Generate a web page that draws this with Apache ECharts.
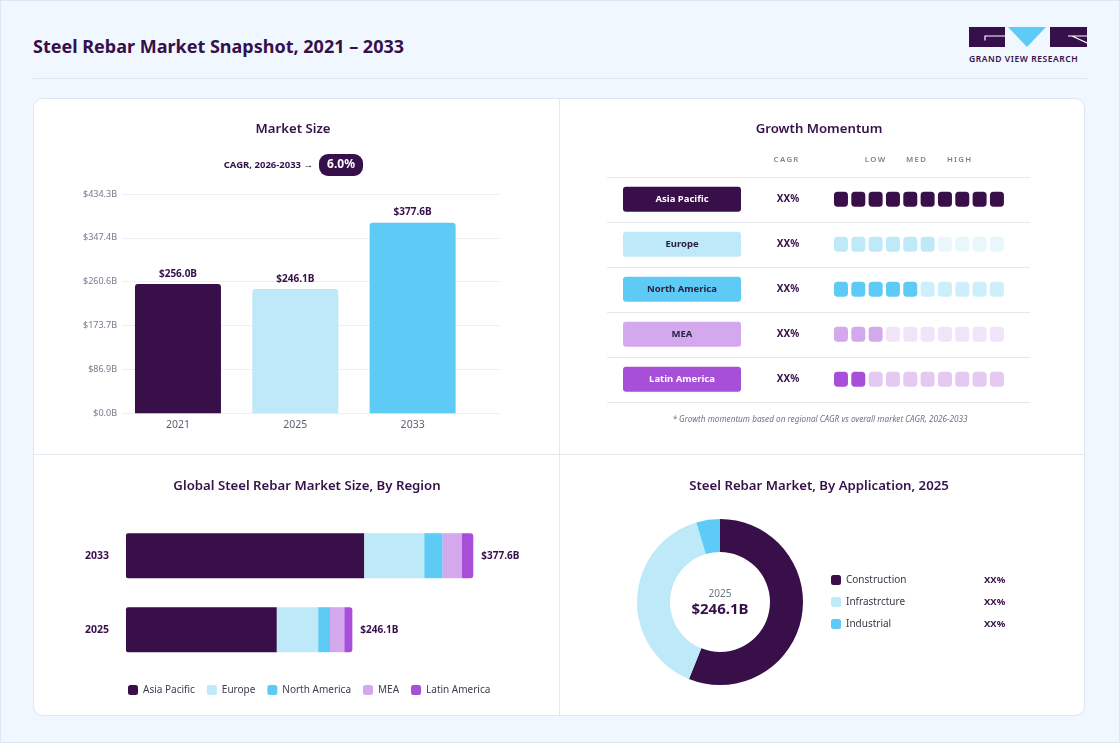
<!DOCTYPE html>
<html>
<head>
<meta charset="utf-8">
<title>Steel Rebar Market Snapshot</title>
<script src="https://cdn.jsdelivr.net/npm/echarts@6.0.0/dist/echarts.min.js"></script>
<style>
  html, body { margin: 0; padding: 0; }
  body { width: 1120px; height: 743px; overflow: hidden; font-family: "Noto Sans", sans-serif; }
  #page { position: absolute; left: 0; top: 0; width: 1120px; height: 743px; background: #f0f7fe; box-shadow: inset 0 0 0 1px #dce7f2; }
  .head-title { position: absolute; left: 33px; top: 34px; font-weight: 700; font-size: 18px; color: #36104a; white-space: nowrap; }
  .head-rule { position: absolute; left: 33px; top: 78px; width: 1054px; height: 1px; background: #dde5ee; }
  .logo { position: absolute; left: 969px; top: 27px; }
  .logo-text { position: absolute; left: 969px; top: 53px; width: 120px; font-size: 8.5px; font-weight: 600; letter-spacing: 0.55px; color: #36104a; white-space: nowrap; }
  .card { position: absolute; left: 33px; top: 98px; width: 1050px; height: 616px; background: #fff; border: 1px solid #dfe6ee; border-radius: 10px; }
  .vrule { position: absolute; left: 559px; top: 99px; width: 1px; height: 616px; background: #e3e8ef; }
  .hrule { position: absolute; left: 34px; top: 454px; width: 1050px; height: 1px; background: #e3e8ef; }
  #chart { position: absolute; left: 0; top: 0; width: 1120px; height: 743px; }
</style>
</head>
<body>
<div id="page">
  <div class="head-title">Steel Rebar Market Snapshot, 2021 – 2033</div>
  <svg class="logo" width="118" height="21" viewBox="0 0 118 21">
    <rect x="0" y="0" width="36" height="20" fill="#36104a"/>
    <path d="M16 13.5 V9 H36" stroke="#fff" stroke-width="1.2" fill="none"/>
    <polygon points="39,0 77,0 58,20" fill="#5ecbf6"/>
    <rect x="81" y="0" width="37" height="20" fill="#36104a"/>
    <path d="M99 9 H118 M103 9 L118 16" stroke="#fff" stroke-width="1.2" fill="none"/>
  </svg>
  <div class="logo-text">GRAND VIEW RESEARCH</div>
  <div class="head-rule"></div>
  <div class="card"></div>
  <div class="vrule"></div>
  <div class="hrule"></div>
</div>
<div id="chart"></div>
<script>
;(function () {
    'use strict';

    // 市场规模
    var years = ['2021', '2025', '2033'];
    var marketSize = [256.0, 246.1, 377.6];
    var sizeAxisMax = 434.3;
    var sizeAxisStep = 86.86;
    var cagrPeriod = 'CAGR, 2026-2033';
    var cagrValue = '6.0%';

    // 增长势头
    var regions = ['Asia Pacific', 'Europe', 'North America', 'MEA', 'Latin America'];
    var regionCagr = ['XX%', 'XX%', 'XX%', 'XX%', 'XX%'];
    var momentumLevel = [10, 6, 5, 3, 2];
    var momentumSteps = ['1', '2', '3', '4', '5', '6', '7', '8', '9', '10'];
    var momentumHeads = ['LOW', 'MED', 'HIGH'];

    // 分地区
    var regionYears = ['2033', '2025'];
    var asiaPacific = [259.1, 164.0];
    var europe = [65.2, 45.0];
    var northAmerica = [20.0, 12.8];
    var mea = [21.0, 15.6];
    var latinAmerica = [12.3, 8.7];
    var regionTotals = [377.6, 246.1];

    // 分应用
    var applications = ['Construction', 'Infrastrcture', 'Industrial'];
    var appShares = [56.1, 39.3, 4.6];
    var appShareLabels = ['XX%', 'XX%', 'XX%'];
    var appYear = '2025';
    var appTotal = 246.1;

    // 颜色
    var DARK = '#36104a';
    var FONT = '"Noto Sans", sans-serif';
    var yearColors = ['#380f48', '#bde9f9', '#5ecbf6'];
    var regionColors = ['#380f48', '#bde9f9', '#5ecbf6', '#d4a8ec', '#a74fd8'];
    var regionFaded = ['#380f48', '#e9f7fd', '#cdeffb', '#f1e3f8', '#e4c9f2'];
    var badgeText = ['#ffffff', '#2a2140', '#2a2140', '#2a2140', '#ffffff'];
    var appColors = ['#380f48', '#bde9f9', '#5ecbf6'];

    function fmtB(v) { return '$' + v.toFixed(1) + 'B'; }
    function spaced(s) { return s.split('').join('\u2009'); }

    // 徽章样式
    var badgeRich = {
        c: { width: 94, align: 'center', fontSize: 10, fontWeight: 700, color: DARK, fontFamily: FONT }
    };
    for (var b = 0; b < regions.length; b++) {
        badgeRich['b' + b] = {
            width: 118, height: 25, align: 'center', borderRadius: 3,
            backgroundColor: regionColors[b], color: badgeText[b],
            fontSize: 9.5, fontWeight: 700, fontFamily: FONT
        };
    }

    // 方块数据
    var squares = [];
    for (var r = 0; r < regions.length; r++) {
        for (var s = 0; s < momentumSteps.length; s++) {
            squares.push({
                value: [momentumSteps[s], regions[r]],
                itemStyle: { color: s < momentumLevel[r] ? regionColors[r] : regionFaded[r], opacity: 1 }
            });
        }
    }

    var regionSeriesData = [asiaPacific, europe, northAmerica, mea, latinAmerica];
    var regionSeries = regionSeriesData.map(function (d, i) {
        var last = i === regionSeriesData.length - 1;
        return {
            name: regions[i],
            type: 'bar',
            stack: 'region',
            xAxisIndex: 4,
            yAxisIndex: 4,
            barWidth: 45,
            silent: true,
            data: d,
            itemStyle: {
                color: regionColors[i],
                borderRadius: i === 0 ? [2, 0, 0, 2] : (last ? [0, 3, 3, 0] : 0)
            },
            label: last ? {
                show: true, position: 'right', distance: 8,
                formatter: function (p) { return fmtB(regionTotals[p.dataIndex]); },
                fontSize: 10, fontWeight: 700, color: DARK, fontFamily: FONT
            } : { show: false }
        };
    });

    function txt(x, y, text, font, color, align) {
        return {
            type: 'text', x: x, y: y, silent: true,
            style: { text: text, font: font, fill: color, align: align || 'center', verticalAlign: 'middle' }
        };
    }

    var TITLE_FONT = '600 13.2px ' + FONT;
    var HEAD_FONT = '600 7.8px ' + FONT;
    var graphics = [
        txt(293, 129, 'Market Size', TITLE_FONT, DARK),
        txt(819, 129, 'Growth Momentum', TITLE_FONT, DARK),
        txt(307, 486, 'Global Steel Rebar Market Size, By Region', TITLE_FONT, DARK),
        txt(819, 486, 'Steel Rebar Market, By Application, ' + appYear, TITLE_FONT, DARK),
        txt(313, 165, cagrPeriod + ' \u2192', '700 9.5px ' + FONT, DARK, 'right'),
        {
            type: 'rect', silent: true,
            shape: { x: 319, y: 154, width: 44, height: 22, r: 9 },
            style: { fill: DARK }
        },
        txt(341, 165, cagrValue, '700 12px ' + FONT, '#ffffff'),
        txt(786, 160, spaced('CAGR'), HEAD_FONT, '#7b8494'),
        txt(875, 160, spaced(momentumHeads[0]), HEAD_FONT, '#7b8494'),
        txt(916, 160, spaced(momentumHeads[1]), HEAD_FONT, '#7b8494'),
        txt(959, 160, spaced(momentumHeads[2]), HEAD_FONT, '#7b8494'),
        txt(820, 420, '* Growth momentum based on regional CAGR vs overall market CAGR, 2026-2033', 'italic 8.2px ' + FONT, '#6b7588'),
        txt(720, 594, appYear, '400 10px ' + FONT, '#6b7588'),
        txt(720, 610, fmtB(appTotal), '700 15px ' + FONT, DARK)
    ];

    var option = {
        animation: false,
        backgroundColor: 'transparent',
        textStyle: { fontFamily: FONT },
        graphic: graphics,
        legend: [
            {
                data: regions,
                left: 123,
                top: 680,
                itemWidth: 10,
                itemHeight: 10,
                itemGap: 12,
                icon: 'roundRect',
                selectedMode: false,
                textStyle: { fontSize: 10, color: '#3b4050', fontFamily: FONT }
            },
            {
                data: applications,
                orient: 'vertical',
                left: 826,
                top: 570,
                itemWidth: 10,
                itemHeight: 10,
                itemGap: 12,
                icon: 'roundRect',
                selectedMode: false,
                formatter: function (name) {
                    return '{n|' + name + '}{v|' + appShareLabels[applications.indexOf(name)] + '}';
                },
                textStyle: {
                    rich: {
                        n: { width: 138, height: 12, fontSize: 10, color: '#333a48', fontFamily: FONT },
                        v: { height: 12, fontSize: 9.5, fontWeight: 700, color: DARK, fontFamily: FONT, verticalAlign: 'top' }
                    }
                }
            }
        ],
        grid: [
            { left: 122, width: 378, top: 194, height: 219.3 },   // 网格线
            { left: 119.3, width: 352, top: 194, height: 219.3 }, // 柱子
            { left: 607, width: 423, top: 176.8, height: 225 },   // 行线 + 徽章
            { left: 832.3, width: 173.3, top: 176.8, height: 225 }, // 方块
            { left: 126, width: 413.9, top: 518.7, height: 148 }  // 堆叠条
        ],
        xAxis: [
            { gridIndex: 0, type: 'value', show: false },
            {
                gridIndex: 1, type: 'category', data: years,
                axisLine: { show: false }, axisTick: { show: false },
                axisLabel: { fontSize: 10.5, color: '#5a6272', margin: 6 }
            },
            { gridIndex: 2, type: 'value', show: false },
            { gridIndex: 3, type: 'category', data: momentumSteps, show: false },
            { gridIndex: 4, type: 'value', min: 0, max: 450, show: false }
        ],
        yAxis: [
            {
                gridIndex: 0, type: 'value', min: 0, max: sizeAxisMax, interval: sizeAxisStep,
                axisLine: { show: false }, axisTick: { show: false },
                axisLabel: {
                    fontSize: 9, color: '#717a8c', margin: 5,
                    formatter: function (v) { return fmtB(v); }
                },
                splitLine: { lineStyle: { color: '#eceff4', width: 1 } }
            },
            { gridIndex: 1, type: 'value', min: 0, max: sizeAxisMax, show: false },
            {
                gridIndex: 2, type: 'category', data: regions, inverse: true,
                axisLine: { show: false }, axisTick: { show: false },
                splitLine: { show: true, interval: 0, lineStyle: { color: '#e3e8ef' } },
                axisLabel: {
                    inside: true, margin: 16, interval: 0,
                    formatter: function (v, i) {
                        return '{b' + i + '|' + v + '}{c|' + regionCagr[i] + '}';
                    },
                    rich: badgeRich
                }
            },
            { gridIndex: 3, type: 'category', data: regions, inverse: true, show: false },
            {
                gridIndex: 4, type: 'category', data: regionYears, inverse: true,
                axisLine: { show: false }, axisTick: { show: false },
                axisLabel: { fontSize: 10.5, fontWeight: 700, color: DARK, margin: 17 }
            }
        ],
        series: [
            {
                type: 'bar',
                xAxisIndex: 1,
                yAxisIndex: 1,
                barWidth: 86,
                silent: true,
                data: marketSize.map(function (v, i) {
                    return { value: v, itemStyle: { color: yearColors[i] } };
                }),
                itemStyle: { borderRadius: [3, 3, 0, 0] },
                label: {
                    show: true, position: 'top', distance: 5,
                    formatter: function (p) { return fmtB(p.value); },
                    fontSize: 10, fontWeight: 700, color: DARK
                }
            },
            {
                name: 'momentum',
                type: 'scatter',
                xAxisIndex: 3,
                yAxisIndex: 3,
                symbol: 'roundRect',
                symbolSize: [14, 15],
                silent: true,
                itemStyle: { opacity: 1 },
                data: squares
            }
        ].concat(regionSeries).concat([
            {
                type: 'pie',
                center: [720, 602],
                radius: [50, 83],
                startAngle: 90,
                silent: true,
                label: { show: false },
                labelLine: { show: false },
                data: applications.map(function (n, i) {
                    return { name: n, value: appShares[i], itemStyle: { color: appColors[i] } };
                })
            }
        ])
    };

    var chart = echarts.init(document.getElementById('chart'), null, { renderer: 'canvas' });
    chart.setOption(option);
})();
</script>
</body>
</html>
